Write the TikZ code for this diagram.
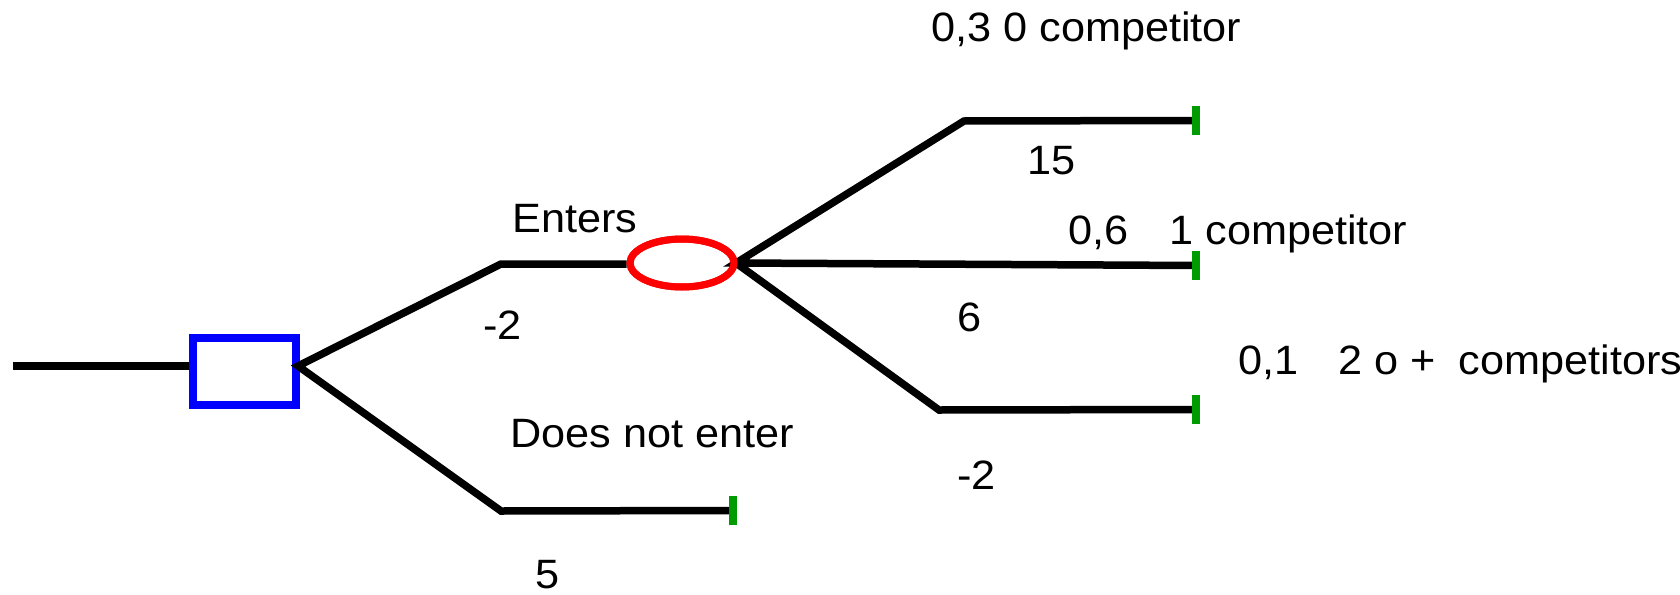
\documentclass[tikz,border=0pt]{standalone}
\usepackage{fontspec}
\setmainfont[FakeStretch=1.055]{Liberation Sans}
\usetikzlibrary{shapes.geometric}
\definecolor{boxblue}{RGB}{0,0,255}
\definecolor{chancered}{RGB}{255,0,0}
\definecolor{endgreen}{RGB}{0,155,0}
\begin{document}
\begin{tikzpicture}[x=1pt,y=-1pt,
  branch/.style={line width=7.5pt,black},
  lbl/.style={anchor=base west,inner sep=0pt,font=\fontsize{41}{41}\selectfont},
  decision/.style={draw=boxblue,line width=8pt,rectangle,minimum width=103pt,minimum height=67pt,inner sep=0pt},
  chance/.style={draw=chancered,line width=7pt,ellipse,minimum width=104pt,minimum height=48pt,inner sep=0pt},
  endtick/.style={draw=none,fill=endgreen,rectangle,minimum width=8pt,minimum height=29pt,inner sep=0pt}]
\useasboundingbox (0,0) rectangle (1680,594);
% nodes
\coordinate (start) at (13,366);
\node[decision] (box) at (244.5,371.5) {};
\coordinate (bout) at (298,366);
\coordinate (up) at (501,264);
\coordinate (down) at (501,511);
\node[chance] (ch) at (682,263) {};
\coordinate (cout) at (736,263);
\coordinate (t1) at (964,121);
\coordinate (t3) at (939,410);
\node[endtick] (e0) at (733,510.5) {};
\node[endtick] (e1) at (1196,120.5) {};
\node[endtick] (e2) at (1196,265.5) {};
\node[endtick] (e3) at (1196,409.5) {};
% connectors
\draw[branch] (start) -- (start -| box.west);
\draw[branch,line join=miter] (e0.center) -- (down) -- (bout) -- (up) -- (up -| ch.west);
\draw[branch,line join=miter] (e1.center) -- (t1) -- (cout) -- (e2.center);
\draw[branch,line join=miter] (cout) -- (t3) -- (e3.center);
\node[endtick] at (733,510.5) {};
\node[endtick] at (1196,120.5) {};
\node[endtick] at (1196,265.5) {};
\node[endtick] at (1196,409.5) {};
\node[chance] at (682,263) {};
% labels
\node[lbl] (l1) at (512,232) {Enters};
\node[lbl] (l2) at (483,339) {-2};
\node[lbl] (l3) at (510,447) {Does not enter};
\node[lbl] (l4) at (535,588) {5};
\node[lbl] (l5) at (931,42) {0,3 0 competitor};
\node[lbl] (l6) at (1027,174) {15};
\node[lbl] (l7) at (1068,244) {0,6\hspace{41pt}1 competitor};
\node[lbl] (l8) at (957,331) {6};
\node[lbl] (l9) at (1238,374) {0,1\hspace{40pt}2 o +\hspace{23pt}competitors};
\node[lbl] (l10) at (957,489) {-2};
\end{tikzpicture}
\end{document}
